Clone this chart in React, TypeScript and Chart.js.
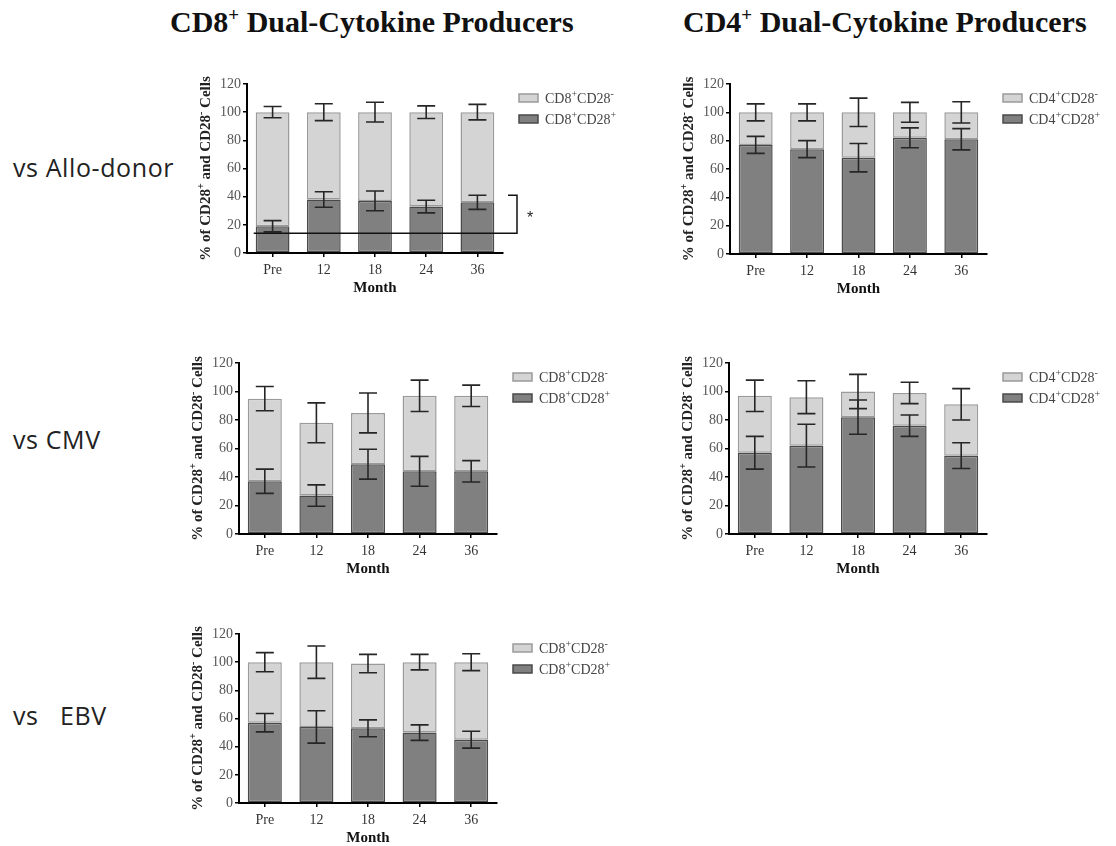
import React, { useEffect, useRef } from 'react';
import { Chart, registerables } from 'chart.js';
Chart.register(...registerables);

const months = ['Pre', '12', '18', '24', '36'];
const yTicks = [0, 20, 40, 60, 80, 100, 120];

// vs Allo-donor, CD8
const alloCD8Pos = [19, 38, 37, 33, 36];
const alloCD8PosErr = [4, 5.5, 7, 4.5, 5];
const alloCD8Neg = [81, 62, 63, 67, 64];
const alloCD8TotErr = [4, 6, 7, 4.5, 5.5];
const alloSigLine = 14;
const alloSigTop = 41;
const alloSigStar = 26.5;

// vs Allo-donor, CD4
const alloCD4Pos = [77, 74, 68, 82, 81];
const alloCD4PosErr = [6, 6, 10, 7, 7.5];
const alloCD4Neg = [23, 26, 32, 18, 19];
const alloCD4TotErr = [6, 6, 10, 7, 7.5];

// vs CMV, CD8
const cmvCD8Pos = [37, 27, 49, 44, 44];
const cmvCD8PosErr = [8.5, 7.5, 10.5, 10.5, 7.5];
const cmvCD8Neg = [58, 51, 36, 53, 53];
const cmvCD8TotErr = [8.5, 14, 14, 11, 7.5];

// vs CMV, CD4
const cmvCD4Pos = [57, 62, 82, 76, 55];
const cmvCD4PosErr = [11.5, 15, 12, 7.5, 9];
const cmvCD4Neg = [40, 34, 18, 23, 36];
const cmvCD4TotErr = [11, 11.5, 12, 7.5, 11];

// vs EBV, CD8
const ebvCD8Pos = [57, 54, 53, 50, 45];
const ebvCD8PosErr = [6.5, 11.5, 6, 5.5, 6];
const ebvCD8Neg = [43, 46, 46, 50, 55];
const ebvCD8TotErr = [6.8, 11.5, 6.5, 5.5, 6];

const SERIF = "'Liberation Serif', 'DejaVu Serif', serif";
const LIGHT = '#d4d4d4';
const LIGHT_BORDER = '#9a9a9a';
const DARK = '#808080';
const DARK_BORDER = '#4a4a4a';

type Part = { t: string; sup?: boolean };

function drawRich(
  ctx: CanvasRenderingContext2D,
  parts: Part[],
  x: number,
  baseline: number,
  size: number,
  weight: string,
  color: string,
  align: 'left' | 'center'
) {
  ctx.textBaseline = 'alphabetic';
  ctx.textAlign = 'left';
  ctx.fillStyle = color;
  const f = (p: Part) => `${weight} ${p.sup ? Math.round(size * 0.68) : size}px ${SERIF}`;
  let w = 0;
  for (const p of parts) {
    ctx.font = f(p);
    w += ctx.measureText(p.t).width;
  }
  let cx = align === 'center' ? x - w / 2 : x;
  for (const p of parts) {
    ctx.font = f(p);
    ctx.fillText(p.t, cx, p.sup ? baseline - size * 0.4 : baseline);
    cx += ctx.measureText(p.t).width;
  }
}

type Area = { left: number; top: number; right: number; bottom: number };
type Sig = { line: number; top: number; star: number };
type PanelProps = {
  cell: string;
  pos: number[];
  posErr: number[];
  neg: number[];
  totErr: number[];
  area: Area;
  sig?: Sig;
};

function Panel({ cell, pos, posErr, neg, totErr, area, sig }: PanelProps) {
  const ref = useRef<HTMLCanvasElement>(null);
  const yAxisW = 62;
  const xAxisH = 52;
  const padTop = 16;
  const cLeft = area.left - yAxisW;
  const cTop = area.top - padTop;
  const cRight = Math.min(area.right + 132, 1116);
  const W = cRight - cLeft;
  const H = area.bottom - area.top + padTop + xAxisH;
  const padRight = cRight - area.right;

  useEffect(() => {
    const overlay = {
      id: 'overlay',
      afterDatasetsDraw(chart: any) {
        const ctx: CanvasRenderingContext2D = chart.ctx;
        const ys = chart.scales.y;
        const ca = chart.chartArea;
        const meta0 = chart.getDatasetMeta(0);
        ctx.save();
        // error bars
        ctx.strokeStyle = '#262626';
        ctx.lineWidth = 1.6;
        const cap = 9;
        meta0.data.forEach((bar: any, i: number) => {
          const x = bar.x;
          const segs = [
            [pos[i], posErr[i]],
            [pos[i] + neg[i], totErr[i]],
          ];
          for (const [v, e] of segs) {
            const y1 = ys.getPixelForValue(v + e);
            const y2 = ys.getPixelForValue(v - e);
            ctx.beginPath();
            ctx.moveTo(x, y1);
            ctx.lineTo(x, y2);
            ctx.moveTo(x - cap, y1);
            ctx.lineTo(x + cap, y1);
            ctx.moveTo(x - cap, y2);
            ctx.lineTo(x + cap, y2);
            ctx.stroke();
          }
        });
        // significance bracket
        if (sig) {
          const first = meta0.data[0];
          const xs = first.x - first.width / 2 - 2;
          const xb = ca.right + 14;
          const yl = ys.getPixelForValue(sig.line);
          const yt = ys.getPixelForValue(sig.top);
          ctx.strokeStyle = '#111';
          ctx.lineWidth = 1.5;
          ctx.beginPath();
          ctx.moveTo(xs, yl);
          ctx.lineTo(xb, yl);
          ctx.lineTo(xb, yt);
          ctx.lineTo(xb - 9, yt);
          ctx.stroke();
          ctx.fillStyle = '#222';
          ctx.font = `16px 'Liberation Sans', sans-serif`;
          ctx.textAlign = 'center';
          ctx.textBaseline = 'middle';
          ctx.fillText('*', xb + 13, ys.getPixelForValue(sig.star) + 3);
        }
        // legend
        const items = [
          { fill: LIGHT, border: LIGHT_BORDER, sign: '-' },
          { fill: DARK, border: DARK_BORDER, sign: '+' },
        ];
        items.forEach((it, k) => {
          const cy = ca.top + 14 + k * 21;
          const bx = ca.right + 16;
          ctx.fillStyle = it.fill;
          ctx.fillRect(bx, cy - 4, 19, 8);
          ctx.strokeStyle = it.border;
          ctx.lineWidth = 1.5;
          ctx.strokeRect(bx, cy - 4, 19, 8);
          drawRich(
            ctx,
            [{ t: cell }, { t: '+', sup: true }, { t: 'CD28' }, { t: it.sign, sup: true }],
            bx + 26,
            cy + 4.5,
            14,
            'normal',
            '#444',
            'left'
          );
        });
        // y axis title
        ctx.save();
        ctx.translate(ca.left - 42, (ca.top + ca.bottom) / 2);
        ctx.rotate(-Math.PI / 2);
        drawRich(
          ctx,
          [
            { t: '% of CD28' },
            { t: '+', sup: true },
            { t: ' and CD28' },
            { t: '-', sup: true },
            { t: ' Cells' },
          ],
          0,
          5,
          15,
          'bold',
          '#222',
          'center'
        );
        ctx.restore();
        // x axis title
        ctx.fillStyle = '#111';
        ctx.font = `bold 15px ${SERIF}`;
        ctx.textAlign = 'center';
        ctx.textBaseline = 'middle';
        ctx.fillText('Month', (ca.left + ca.right) / 2, ca.bottom + 35);
        ctx.restore();
      },
    };

    const chart = new Chart(ref.current as HTMLCanvasElement, {
      type: 'bar',
      data: {
        labels: months,
        datasets: [
          {
            label: cell + '+CD28+',
            data: pos,
            backgroundColor: DARK,
            borderColor: DARK_BORDER,
            borderWidth: 1.5,
            borderSkipped: false,
            stack: 's',
            barPercentage: 0.66,
            categoryPercentage: 1,
          },
          {
            label: cell + '+CD28-',
            data: neg,
            backgroundColor: LIGHT,
            borderColor: LIGHT_BORDER,
            borderWidth: 1.5,
            borderSkipped: false,
            stack: 's',
            barPercentage: 0.66,
            categoryPercentage: 1,
          },
        ],
      },
      options: {
        animation: false,
        responsive: false,
        maintainAspectRatio: false,
        layout: { padding: { top: padTop, left: 0, right: padRight, bottom: 0 } },
        plugins: {
          legend: { display: false },
          tooltip: { enabled: false },
          title: { display: false },
        },
        scales: {
          x: {
            stacked: true,
            grid: {
              display: true,
              drawOnChartArea: false,
              drawTicks: true,
              tickLength: 4,
              color: '#000',
              lineWidth: 1.5,
              offset: false,
            },
            border: { display: true, color: '#000', width: 2 },
            ticks: {
              font: { family: SERIF, size: 14 },
              color: '#333',
              padding: 5,
              maxRotation: 0,
            },
            afterFit: (s: any) => {
              s.height = xAxisH;
            },
          },
          y: {
            stacked: true,
            min: 0,
            max: 120,
            afterBuildTicks: (s: any) => {
              s.ticks = yTicks.map((v) => ({ value: v }));
            },
            grid: {
              display: true,
              drawOnChartArea: false,
              drawTicks: true,
              tickLength: 4,
              color: '#000',
              lineWidth: 1.5,
            },
            border: { display: true, color: '#000', width: 2 },
            ticks: {
              font: { family: SERIF, size: 14 },
              color: '#555',
              padding: 2,
            },
            afterFit: (s: any) => {
              s.width = yAxisW;
            },
          },
        },
      } as any,
      plugins: [overlay],
    });
    return () => chart.destroy();
  }, []);

  return (
    <canvas
      ref={ref}
      width={W}
      height={H}
      style={{ position: 'absolute', left: cLeft, top: cTop, width: W, height: H }}
    />
  );
}

const titleStyle: React.CSSProperties = {
  position: 'absolute',
  top: 7,
  fontFamily: SERIF,
  fontWeight: 'bold',
  fontSize: 30,
  lineHeight: '30px',
  color: '#111',
  whiteSpace: 'pre',
};
const supStyle: React.CSSProperties = { fontSize: 19, position: 'relative', top: -11 };
const rowStyle: React.CSSProperties = {
  position: 'absolute',
  left: 13,
  fontFamily: "'Open Sans', 'Noto Sans', sans-serif",
  fontSize: 25,
  lineHeight: '25px',
  letterSpacing: 0.6,
  color: '#222',
  whiteSpace: 'pre',
};

export default function App() {
  return (
    <div
      style={{
        position: 'absolute',
        left: 0,
        top: 0,
        width: 1116,
        height: 846,
        background: '#fff',
        overflow: 'hidden',
      }}
    >
      <div style={{ ...titleStyle, left: 170 }}>
        CD8<span style={supStyle}>+</span> Dual-Cytokine Producers
      </div>
      <div style={{ ...titleStyle, left: 683 }}>
        CD4<span style={supStyle}>+</span> Dual-Cytokine Producers
      </div>
      <div style={{ ...rowStyle, top: 155 }}>vs Allo-donor</div>
      <div style={{ ...rowStyle, top: 427 }}>vs CMV</div>
      <div style={{ ...rowStyle, top: 703 }}>vs   EBV</div>

      <Panel
        cell="CD8"
        pos={alloCD8Pos}
        posErr={alloCD8PosErr}
        neg={alloCD8Neg}
        totErr={alloCD8TotErr}
        area={{ left: 247, top: 84, right: 503, bottom: 253 }}
        sig={{ line: alloSigLine, top: alloSigTop, star: alloSigStar }}
      />
      <Panel
        cell="CD4"
        pos={alloCD4Pos}
        posErr={alloCD4PosErr}
        neg={alloCD4Neg}
        totErr={alloCD4TotErr}
        area={{ left: 730, top: 84, right: 987, bottom: 254 }}
      />
      <Panel
        cell="CD8"
        pos={cmvCD8Pos}
        posErr={cmvCD8PosErr}
        neg={cmvCD8Neg}
        totErr={cmvCD8TotErr}
        area={{ left: 239, top: 363, right: 497, bottom: 534 }}
      />
      <Panel
        cell="CD4"
        pos={cmvCD4Pos}
        posErr={cmvCD4PosErr}
        neg={cmvCD4Neg}
        totErr={cmvCD4TotErr}
        area={{ left: 729, top: 363, right: 987, bottom: 534 }}
      />
      <Panel
        cell="CD8"
        pos={ebvCD8Pos}
        posErr={ebvCD8PosErr}
        neg={ebvCD8Neg}
        totErr={ebvCD8TotErr}
        area={{ left: 239, top: 634, right: 497, bottom: 803 }}
      />
    </div>
  );
}
